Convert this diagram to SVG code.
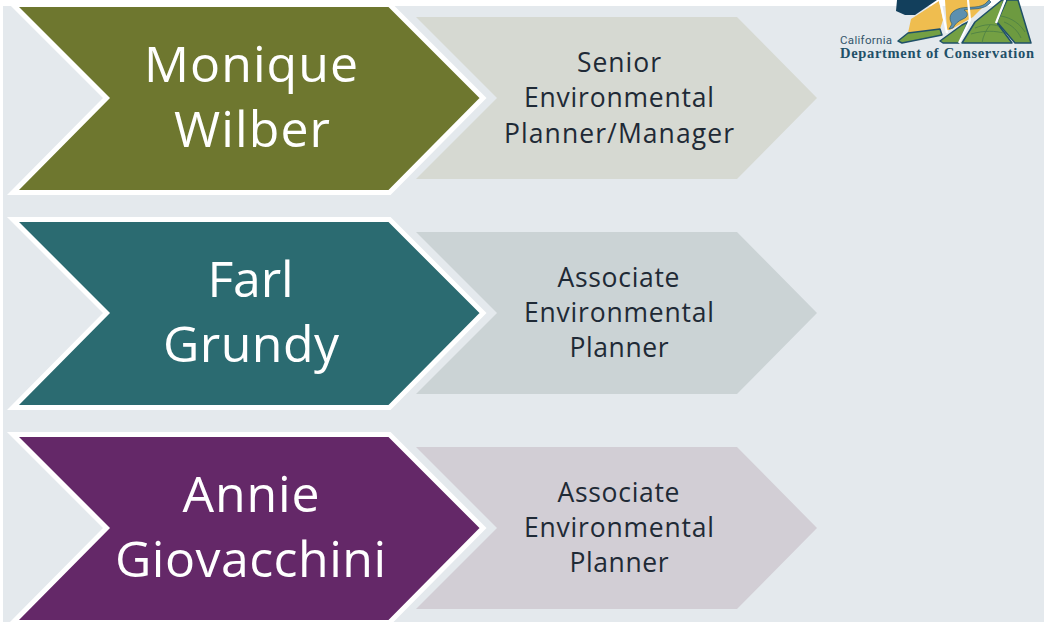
<svg xmlns="http://www.w3.org/2000/svg" width="1044" height="622" viewBox="0 0 1044 622">
<style>
.main{stroke:#fff;stroke-width:5;stroke-linejoin:miter}
text{font-family:"Open Sans","Noto Sans","Liberation Sans",sans-serif;text-anchor:middle}
.n{font-size:50px;fill:#fff}
.r{font-size:26.5px;fill:#1f2a36}
.o{stroke:#1f5068;stroke-width:1.5;stroke-linejoin:round}
.c{fill:none;stroke:#4a7d45;stroke-width:.8}
.w{fill:none;stroke:#fff;stroke-width:2.2}
</style>
<rect width="1044" height="622" fill="#fff"/>
<rect x="3" y="6" width="1041" height="616" fill="#e4e9ed"/>
<g id="logo">
<path d="M897 0L896 11L905 15L915 15L937 0Z" fill="#123f5c"/>
<path d="M911 19L939 1L943 20L940 29L908 33Z" fill="#efbd4f"/>
<path d="M898 41L908 33L940 29L942 35L902 43Z" fill="#74a043" class="o"/>
<path d="M945 0H990L973 17L950 30L947 30Z" fill="#efbd4f"/>
<path d="M949 29L952 24C948 18 950 12 958 9C964 6 978 9 985 4L989 0L991 2C984 11 972 8 964 10C969 13 968 17 963 19C958 21 955 24 953 28Z" fill="#5d90b0" stroke="#1f5068" stroke-width=".6"/>
<path d="M940 41L962 25L968 22L959 43H943Z" fill="#74a043" class="o"/>
<path d="M962 43L975 22L1002 0H1004L997 23L1012 43Z" fill="#74a043" class="o"/>
<path d="M1007 0H1018L1031 43H1015L997 22Z" fill="#6d9a40" class="o"/>
<path class="c" d="M975 28C985 24 992 24 999 26M971 34C985 30 995 31 1004 33M982 43C983 36 986 30 990 25M1001 16C1012 18 1020 24 1025 32M1004 22C1012 25 1018 31 1021 38"/>
<path class="w" d="M940 0L947 33M968 0L970 20L959 43M1005 0L996 23"/>
<text x="866" y="44" style="font-family:'Roboto','Liberation Sans',sans-serif;font-size:11.5px;fill:#34566b" textLength="52">California</text>
<text x="937" y="58" style="font-family:'Liberation Serif','DejaVu Serif',serif;font-size:14.5px;font-weight:700;fill:#1f5068" textLength="194">Department of Conservation</text>
</g>
<g id="node-monique">
<path d="M416 17H737L817 98L737 179H416L497 98Z" fill="#d6d9d2"/>
<path class="main" d="M13 4.500H389.500L483 98L389.500 192.500H13L106.500 98Z" fill="#6e772f"/>
<text class="n" x="251" y="82" textLength="214">Monique</text>
<text class="n" x="252" y="147" textLength="156">Wilber</text>
<text class="r" x="619" y="72" textLength="84">Senior</text>
<text class="r" x="619" y="107" textLength="190">Environmental</text>
<text class="r" x="619" y="143" textLength="230">Planner/Manager</text>
</g>
<g id="node-farl">
<path d="M416 232H737L817 313L737 394H416L497 313Z" fill="#cbd3d5"/>
<path class="main" d="M13 219.500H389.500L483 313L389.500 407.500H13L106.500 313Z" fill="#2b6b71"/>
<text class="n" x="250.500" y="297" textLength="86">Farl</text>
<text class="n" x="251" y="362" textLength="176">Grundy</text>
<text class="r" x="618.500" y="287" textLength="122">Associate</text>
<text class="r" x="619" y="322" textLength="190">Environmental</text>
<text class="r" x="619" y="357" textLength="99">Planner</text>
</g>
<g id="node-annie">
<path d="M416 447H737L817 528L737 609H416L497 528Z" fill="#d2ced5"/>
<path class="main" d="M13 434.500H389.500L483 528L389.500 622.500H13L106.500 528Z" fill="#642868"/>
<text class="n" x="251" y="512" textLength="137">Annie</text>
<text class="n" x="250.500" y="577" textLength="271">Giovacchini</text>
<text class="r" x="618.500" y="502" textLength="122">Associate</text>
<text class="r" x="619" y="537" textLength="190">Environmental</text>
<text class="r" x="619" y="572" textLength="99">Planner</text>
</g>
<g id="connectors"></g>
</svg>
